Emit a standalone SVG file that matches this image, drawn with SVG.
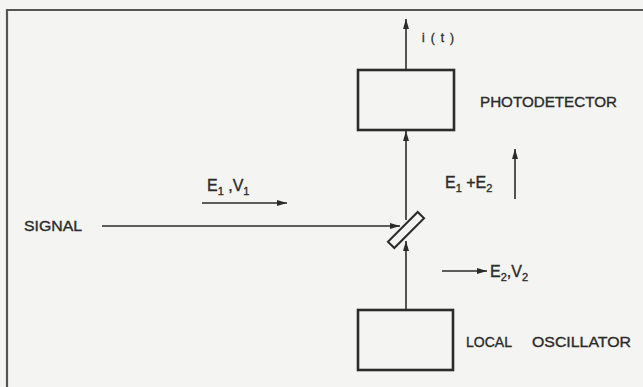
<svg xmlns="http://www.w3.org/2000/svg" width="643" height="387" viewBox="0 0 643 387">
<defs>
<style>
.ln{stroke:#2b2b2b;stroke-width:1.6;fill:none}
.box{stroke:#2b2b2b;stroke-width:2.6;fill:none}
.t{font-family:"Liberation Sans",Arial,sans-serif;fill:#2b2b2b;stroke:#2b2b2b;stroke-width:0.35;font-size:14.5px}
.s{font-size:11px}
</style>
<marker id="ah" viewBox="0 0 10 6" refX="10" refY="3" markerWidth="10" markerHeight="6" markerUnits="userSpaceOnUse" orient="auto">
<path d="M0,0 L10,3 L0,6 z" fill="#2b2b2b"/>
</marker>
</defs>
<rect width="643" height="387" fill="#f4f4f2"/>
<path d="M7,387 V10 H643" stroke="#555" stroke-width="2.2" fill="none"/>
<g id="photodetector">
<rect class="box" x="358" y="70" width="96" height="60"/>
<text class="t" x="480" y="107" textLength="137" lengthAdjust="spacingAndGlyphs">PHOTODETECTOR</text>
</g>
<g id="local-oscillator">
<rect class="box" x="358" y="310" width="95" height="60"/>
<text class="t" x="466" y="347" textLength="46" lengthAdjust="spacingAndGlyphs">LOCAL</text>
<text class="t" x="532" y="347" textLength="99" lengthAdjust="spacingAndGlyphs">OSCILLATOR</text>
</g>
<g id="mirror">
<rect x="385" y="225.5" width="42" height="9" transform="rotate(-45 406 230)" stroke="#2b2b2b" stroke-width="2" fill="#f4f4f2"/>
</g>
<g id="signal">
<text class="t" x="24" y="231" textLength="58" lengthAdjust="spacingAndGlyphs">SIGNAL</text>
</g>
<g id="connectors">
<line class="ln" x1="102" y1="226" x2="400" y2="226" marker-end="url(#ah)"/>
<line class="ln" x1="406" y1="310" x2="406" y2="241" marker-end="url(#ah)"/>
<line class="ln" x1="406" y1="220" x2="406" y2="131" marker-end="url(#ah)"/>
<line class="ln" x1="406" y1="70" x2="406" y2="19" marker-end="url(#ah)"/>
<line class="ln" x1="202" y1="203" x2="287" y2="203" marker-end="url(#ah)"/>
<line class="ln" x1="515" y1="199" x2="515" y2="149" marker-end="url(#ah)"/>
<line class="ln" x1="442" y1="271" x2="487" y2="271" marker-end="url(#ah)"/>
</g>
<g id="labels">
<text class="t" x="422" y="42" style="font-size:12px" textLength="32" lengthAdjust="spacing">i(t)</text>
<text class="t" x="207" y="191" style="font-size:16px">E<tspan class="s" dy="4">1</tspan><tspan dy="-4"> ,V</tspan><tspan class="s" dy="4">1</tspan></text>
<text class="t" x="445" y="188" style="font-size:16px">E<tspan class="s" dy="4">1</tspan><tspan dy="-4"> +E</tspan><tspan class="s" dy="4">2</tspan></text>
<text class="t" x="490" y="277" style="font-size:16px">E<tspan class="s" dy="4">2</tspan><tspan dy="-4">,V</tspan><tspan class="s" dy="4">2</tspan></text>
</g>
</svg>
